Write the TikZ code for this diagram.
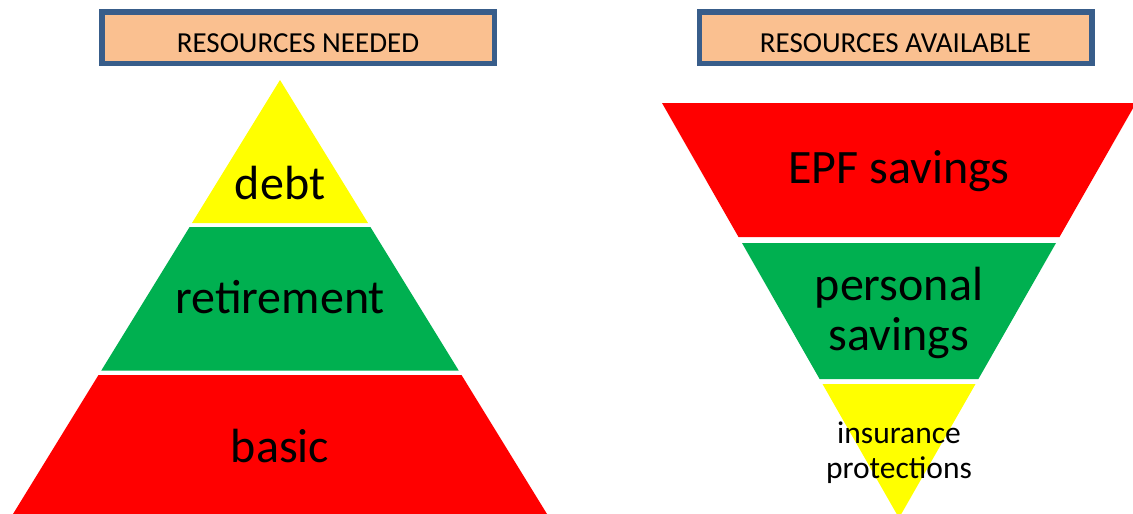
\documentclass[tikz,border=0pt]{standalone}
\usepackage{fontspec}
\setmainfont{Carlito}
\usepackage{tikz}
\usepackage{xcolor}

\definecolor{hdrfill}{HTML}{FAC090}
\definecolor{hdrline}{HTML}{385D8A}
\definecolor{bandred}{HTML}{FF0000}
\definecolor{bandgreen}{HTML}{00B050}
\definecolor{bandyellow}{HTML}{FFFF00}

\tikzset{
  hdr/.style={draw=hdrline,fill=hdrfill,line width=5.5pt,rectangle,minimum width=392.5pt,minimum height=51.5pt,
    font=\fontsize{29}{31}\selectfont,text height=29pt,text depth=0pt},
  big/.style={anchor=base,inner sep=0pt,font=\fontsize{48}{50}\selectfont},
  small/.style={anchor=base,inner sep=0pt,align=center,font=\fontsize{31.5}{35}\selectfont}
}

\begin{document}
\begin{tikzpicture}[x=1pt,y=-1pt]
\useasboundingbox (0,0) rectangle (1133,514);
\clip (0,0) rectangle (1133,514);

% headers
\node[hdr] (needed) at (298,37.5) {RESOURCES NEEDED};
\node[hdr] (available) at (895.5,37.5) {RESOURCES AVAILABLE};

% pyramid
\fill[bandyellow] (280,80) -- (368,223) -- (192,223) -- cycle;
\fill[bandgreen] (189.6,227) -- (370.4,227) -- (458.7,370.5) -- (101.3,370.5) -- cycle;
\fill[bandred] (98.5,375) -- (461.5,375) -- (547,514) -- (13,514) -- cycle;
\node[big] (debt) at (280,199) {debt};
\node[big] (retire) at (280,313) {retirement};
\node[big] (basic) at (280,462) {basic};

% funnel (last line baseline for two-line labels)
\fill[bandred] (662,103) -- (1136,103) -- (1059.5,237) -- (738.5,237) -- cycle;
\fill[bandgreen] (742,243) -- (1056,243) -- (978.4,379) -- (819.6,379) -- cycle;
\fill[bandyellow] (822.5,384) -- (975.5,384) -- (899,518) -- cycle;
\node[big] (epf) at (899,183) {EPF savings};
\node[big,align=center] (personal) at (899,350) {personal\\savings};
\node[small] (insurance) at (899,478) {insurance\\protections};
\end{tikzpicture}
\end{document}
